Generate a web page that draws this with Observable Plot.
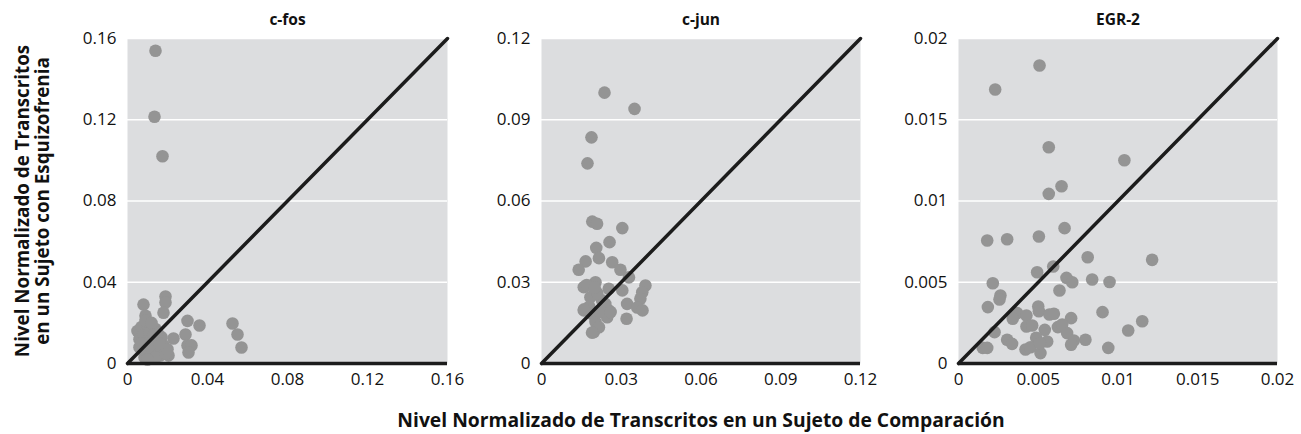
<!DOCTYPE html>
<html>
<head>
<meta charset="utf-8">
<script src="https://cdn.jsdelivr.net/npm/d3@7"></script>
<script src="https://cdn.jsdelivr.net/npm/@observablehq/plot@0.6"></script>
<style>
  html, body { margin: 0; padding: 0; background: #fff; }
  #wrap { position: relative; width: 1301px; height: 434px; }
  .panel { position: absolute; top: 0; }
</style>
</head>
<body>
<div id="wrap"></div>
<script>
// ---- Data ----
const panelTitles = ["c-fos", "c-jun", "EGR-2"];
const yAxisTitle = "Nivel Normalizado de Transcritos\nen un Sujeto con Esquizofrenia";
const xAxisTitle = "Nivel Normalizado de Transcritos en un Sujeto de Comparación";

const fosTicks = [0, 0.04, 0.08, 0.12, 0.16];
const junTicks = [0, 0.03, 0.06, 0.09, 0.12];
const egrTicks = [0, 0.005, 0.01, 0.015, 0.02];

const fosX = [0.014, 0.0135, 0.0175, 0.019, 0.019, 0.018, 0.008, 0.009,
  0.030, 0.036, 0.0525, 0.055, 0.057, 0.029, 0.023, 0.030, 0.032, 0.0305, 0.0085, 0.0165, 0.0205,
  0.005, 0.006, 0.007, 0.008, 0.009, 0.010, 0.011, 0.012, 0.013, 0.014, 0.015, 0.016, 0.006, 0.008,
  0.010, 0.012, 0.014, 0.009, 0.011, 0.017, 0.018, 0.019, 0.020, 0.015, 0.007, 0.012, 0.016, 0.013, 0.010];
const fosY = [0.154, 0.1215, 0.102, 0.033, 0.030, 0.025, 0.029, 0.0235,
  0.021, 0.0187, 0.0197, 0.0143, 0.0079, 0.0143, 0.0123, 0.0089, 0.0089, 0.0054, 0.003, 0.004, 0.004,
  0.016, 0.012, 0.018, 0.014, 0.010, 0.019, 0.015, 0.012, 0.008, 0.017, 0.011, 0.006, 0.008, 0.006,
  0.005, 0.004, 0.003, 0.021, 0.009, 0.013, 0.009, 0.005, 0.007, 0.015, 0.010, 0.020, 0.010, 0.014, 0.002];

const junX = [0.0237, 0.035, 0.0188, 0.0173,
  0.0191, 0.0209, 0.0304, 0.0256, 0.0206, 0.0216, 0.0166, 0.014, 0.0266, 0.0297, 0.0329, 0.0391,
  0.0379, 0.0372, 0.0304, 0.0322, 0.032, 0.0159, 0.0203, 0.0253, 0.0184, 0.0228, 0.0159, 0.0191,
  0.0253, 0.0247, 0.0203, 0.0197, 0.0216, 0.036, 0.038, 0.019, 0.017, 0.021, 0.018, 0.022, 0.024,
  0.020, 0.016, 0.026];
const junY = [0.100, 0.094, 0.0835, 0.0739,
  0.0524, 0.0516, 0.050, 0.0448, 0.0427, 0.0389, 0.0377, 0.0346, 0.0374, 0.0346, 0.0318, 0.0288,
  0.0263, 0.0239, 0.027, 0.022, 0.0165, 0.0282, 0.030, 0.0276, 0.0245, 0.0233, 0.0196, 0.0183,
  0.0196, 0.0171, 0.0153, 0.0116, 0.0134, 0.0207, 0.0196, 0.0114, 0.029, 0.026, 0.021, 0.019, 0.022,
  0.028, 0.020, 0.019];

const egrX = [0.00508, 0.0023, 0.00566, 0.0104, 0.00646, 0.00566,
  0.00665, 0.0018, 0.00305, 0.00504, 0.0081, 0.01214, 0.00493, 0.00594, 0.00677, 0.00713, 0.00838,
  0.00947, 0.00215, 0.00633, 0.00263, 0.00257, 0.00184, 0.005, 0.00504, 0.00368, 0.00426, 0.0057,
  0.00598, 0.0034, 0.00706, 0.00903, 0.01152, 0.01064, 0.00426, 0.00462, 0.00541, 0.00623, 0.0065,
  0.00681, 0.00226, 0.00305, 0.00336, 0.00487, 0.00556, 0.00723, 0.00706, 0.00796, 0.00152, 0.0018,
  0.0042, 0.00451, 0.00514, 0.0051, 0.00939];
const egrY = [0.01834, 0.01686, 0.01331, 0.01251, 0.01091, 0.01044,
  0.00833, 0.00757, 0.00765, 0.00782, 0.00654, 0.00638, 0.00562, 0.00597, 0.00527, 0.005, 0.00517,
  0.00502, 0.00494, 0.00449, 0.00418, 0.00394, 0.00347, 0.00351, 0.00322, 0.0031, 0.00295, 0.00302,
  0.00306, 0.00275, 0.00279, 0.00316, 0.0026, 0.00203, 0.00228, 0.00234, 0.00207, 0.00224, 0.0024,
  0.00187, 0.00193, 0.00146, 0.00121, 0.00158, 0.00135, 0.00142, 0.00115, 0.00146, 0.00096, 0.00096,
  0.00086, 0.001, 0.00064, 0.00125, 0.00096];

// ---- Drawing ----
const seriesX = [fosX, junX, egrX];
const seriesY = [fosY, junY, egrY];
const tickSets = [fosTicks, junTicks, egrTicks];
const layout = [
  {left: 0, width: 457, marginLeft: 127},
  {left: 461, width: 409, marginLeft: 80},
  {left: 878, width: 409, marginLeft: 80}
];

const wrap = document.getElementById("wrap");
const FONT = "'Open Sans', Lato, sans-serif";

panelTitles.forEach((title, i) => {
  const ticks = tickSets[i];
  const max = ticks[ticks.length - 1];
  const pts = seriesX[i].map((x, j) => ({x, y: seriesY[i][j]}));
  const diag = [{x: ticks[0], y: ticks[0]}, {x: max, y: max}];
  const marks = [
    Plot.frame({fill: "#dcdddf", stroke: null}),
    Plot.gridY(ticks.slice(1), {stroke: "#ffffff", strokeOpacity: 1, strokeWidth: 1.6}),
    Plot.axisY(ticks, {tickSize: 0, tickPadding: 11, tickFormat: d => String(d), label: null, fontSize: 17, fill: "#111"}),
    Plot.axisX(ticks, {tickSize: 0, tickPadding: 9, tickFormat: d => String(d), label: null, fontSize: 17, fill: "#111"}),
    Plot.dot(pts, {x: "x", y: "y", r: 6.3, fill: "#949494", stroke: null}),
    Plot.line(diag, {x: "x", y: "y", stroke: "#1c1c1c", strokeWidth: 3.5}),
    Plot.ruleY([0], {stroke: "#1c1c1c", strokeWidth: 3.5}),
    Plot.text([title], {frameAnchor: "top", dy: -25, fontWeight: "bold", fontSize: 15.5, fill: "#111"})
  ];
  if (i === 0) {
    marks.push(Plot.text([yAxisTitle], {frameAnchor: "left", textAnchor: "middle", dx: -95, rotate: -90, fontWeight: "bold", fontSize: 18.8, lineHeight: 1.05, fill: "#111"}));
  }
  if (i === 1) {
    marks.push(Plot.text([xAxisTitle], {frameAnchor: "bottom", dy: 63, fontWeight: "bold", fontSize: 19.3, fill: "#111"}));
  }
  const svg = Plot.plot({
    width: layout[i].width,
    height: 434,
    marginLeft: layout[i].marginLeft,
    marginRight: 10,
    marginTop: 38,
    marginBottom: 71,
    x: {domain: [0, max], nice: false, axis: null},
    y: {domain: [0, max], nice: false, axis: null},
    style: {fontFamily: FONT, fontSize: "16px", overflow: "visible", background: "transparent"},
    marks
  });
  const div = document.createElement("div");
  div.className = "panel";
  div.style.left = layout[i].left + "px";
  div.appendChild(svg);
  wrap.appendChild(div);
});
</script>
</body>
</html>
